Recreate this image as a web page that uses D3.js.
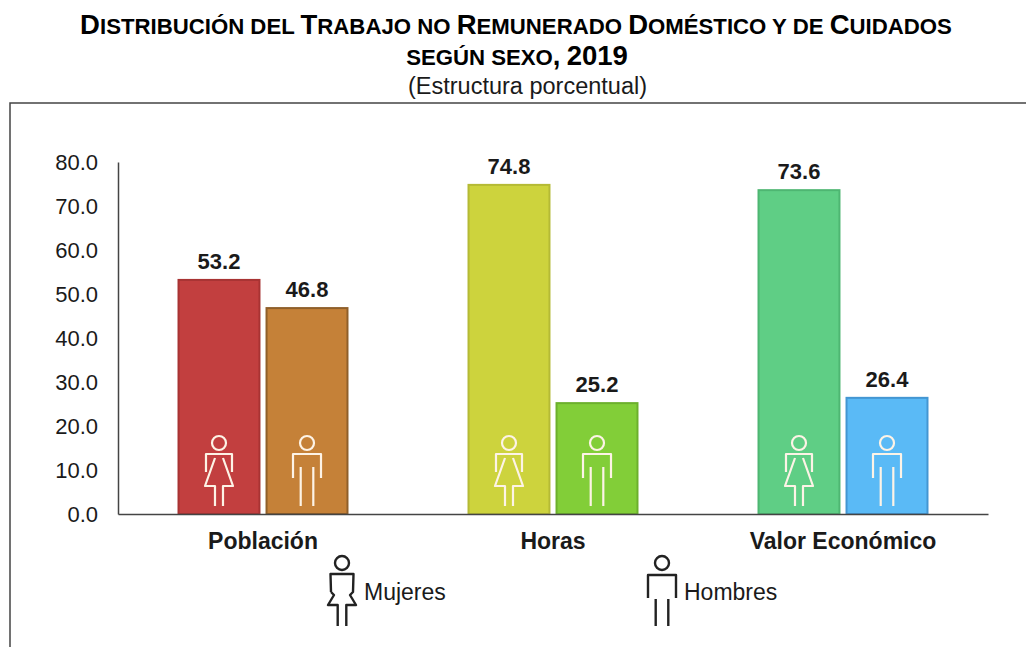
<!DOCTYPE html>
<html>
<head>
<meta charset="utf-8">
<script src="https://cdn.jsdelivr.net/npm/d3@7"></script>
<style>
    html, body { margin: 0; padding: 0; background: #fff; overflow: hidden; }
    text { font-family: "Liberation Sans", Arial, sans-serif; fill: #1a1a1a; }
    .title { font-weight: bold; fill: #000; }
</style>
</head>
<body>
<div id="chart"></div>
<script>
// data
const categories = ["Población", "Horas", "Valor Económico"];
const sexes = ["Mujeres", "Hombres"];
const mujeres = [53.2, 74.8, 73.6];
const hombres = [46.8, 25.2, 26.4];
const yTicks = [0, 10, 20, 30, 40, 50, 60, 70, 80];

const fillMujeres = ["#c23f3f", "#cdd33d", "#5fce85"];
const fillHombres = ["#c58138", "#82ce38", "#5abaf6"];
const lineMujeres = ["#a83333", "#b5ba35", "#4eb672"];
const lineHombres = ["#8f5f2a", "#6cb02c", "#4396d2"];

// icons, origin at the centre of the head
const womanBar = "M-13,29 L-13,11 L13,11 L13,29 M-4,15 L-14,43 L-4,43 L-4,63 M4,15 L14,43 L4,43 L4,63";
const manBar = "M-14,35 L-14,11 L14,11 L14,35 M-6.3,24 L-6.3,63 M6.3,24 L6.3,63";
const womanLegend = "M-11,29 L-11.5,11 L11.5,11 L11,29 L8,32 L14,42 L4.3,42 L4.3,63 M-11,29 L-8,32 L-14,42 L-4.3,42 L-4.3,63";
const manLegend = "M-14,35 L-14,12 L14,12 L14,35 M-6.3,36 L-6.3,63 M6.3,36 L6.3,63";

const svg = d3.select("#chart").append("svg")
    .attr("width", 1026)
    .attr("height", 647);

// small caps by hand: capitals and digits big, the rest uppercased at a smaller size
function smallCaps(sel, str, big, small) {
    str.match(/[A-ZÁÉÍÓÚ0-9,]+|[^A-ZÁÉÍÓÚ0-9,]+/g).forEach(function(run) {
        const isBig = /[A-ZÁÉÍÓÚ0-9,]/.test(run[0]);
        sel.append("tspan")
            .attr("font-size", isBig ? big : small)
            .text(run.toUpperCase());
    });
}

// title
const title1 = svg.append("text").attr("class", "title")
    .attr("x", 516).attr("y", 34)
    .attr("text-anchor", "middle");
smallCaps(title1, "Distribución del Trabajo no Remunerado Doméstico y de Cuidados", 27.5, 22.2);
const title2 = svg.append("text").attr("class", "title")
    .attr("x", 517).attr("y", 65)
    .attr("text-anchor", "middle");
smallCaps(title2, "según sexo, 2019", 27.5, 22.2);
svg.append("text")
    .attr("x", 527.5).attr("y", 94)
    .attr("text-anchor", "middle")
    .attr("font-size", 23.5)
    .text("(Estructura porcentual)");

// frame runs off the page on the right and bottom
svg.append("rect")
    .attr("x", 10).attr("y", 103)
    .attr("width", 1040).attr("height", 600)
    .attr("fill", "none")
    .attr("stroke", "#444")
    .attr("stroke-width", 1.5);

const margin = {left: 118, right: 38, top: 162, bottom: 133};
const width = 1026 - margin.left - margin.right;
const height = 647 - margin.top - margin.bottom;

const g = svg.append("g")
    .attr("transform", "translate(" + margin.left + "," + margin.top + ")");

const x = d3.scaleBand().domain(categories).range([0, width]);
const xSex = d3.scaleBand().domain(sexes).range([0, x.bandwidth()])
    .paddingInner(0.08)
    .paddingOuter(0.6875);
const y = d3.scaleLinear().domain([0, 80]).range([height, 0]);

const yAxis = d3.axisLeft(y).tickValues(yTicks).tickSize(0).tickPadding(20).tickFormat(d3.format(".1f"));
const xAxis = d3.axisBottom(x).tickSize(0).tickPadding(19);

const rows = categories.map(function(c, i) {
    return [
        {cat: c, sex: "Mujeres", value: mujeres[i], fill: fillMujeres[i], line: lineMujeres[i], icon: womanBar},
        {cat: c, sex: "Hombres", value: hombres[i], fill: fillHombres[i], line: lineHombres[i], icon: manBar}
    ];
}).flat();

// bars
g.selectAll(".bar")
    .data(rows)
    .enter().append("rect")
    .attr("class", "bar")
    .attr("x", function(d) { return x(d.cat) + xSex(d.sex); })
    .attr("y", function(d) { return y(d.value); })
    .attr("width", xSex.bandwidth())
    .attr("height", function(d) { return height - y(d.value); })
    .attr("fill", function(d) { return d.fill; })
    .attr("stroke", function(d) { return d.line; })
    .attr("stroke-width", 2);

// value labels
g.selectAll(".val")
    .data(rows)
    .enter().append("text")
    .attr("class", "val")
    .attr("x", function(d) { return x(d.cat) + xSex(d.sex) + xSex.bandwidth() / 2; })
    .attr("y", function(d) { return y(d.value) - 11; })
    .attr("text-anchor", "middle")
    .attr("font-size", 22)
    .attr("font-weight", "bold")
    .attr("fill", "#111")
    .text(function(d) { return d.value.toFixed(1); });

// icons inside the bars
const icons = g.selectAll(".icon")
    .data(rows)
    .enter().append("g")
    .attr("class", "icon")
    .attr("transform", function(d) {
        return "translate(" + (x(d.cat) + xSex(d.sex) + xSex.bandwidth() / 2) + "," + (height - 71) + ")";
    })
    .attr("fill", "none")
    .attr("stroke", "#fdf3e6")
    .attr("stroke-width", 2.2)
    .attr("stroke-linejoin", "round");
icons.append("circle").attr("r", 7);
icons.append("path").attr("d", function(d) { return d.icon; });

// axes
const gy = g.append("g").attr("class", "y-axis").call(yAxis);
const gx = g.append("g").attr("class", "x-axis")
    .attr("transform", "translate(0," + height + ")")
    .call(xAxis);

gy.selectAll("text").attr("font-size", 22).attr("fill", "#222");
gy.select(".domain").attr("stroke", "#444").attr("stroke-width", 1.5);
gx.selectAll("text").attr("font-size", 23).attr("font-weight", "bold").attr("fill", "#111");
gx.select(".domain").attr("stroke", "#444").attr("stroke-width", 1.5);

// legend
const legendItems = [
    {label: sexes[0], icon: womanLegend, cx: 342, tx: 364},
    {label: sexes[1], icon: manLegend, cx: 662, tx: 684}
];
const legend = svg.selectAll(".legend")
    .data(legendItems)
    .enter().append("g")
    .attr("class", "legend");
legend.append("circle")
    .attr("cx", function(d) { return d.cx; })
    .attr("cy", 563)
    .attr("r", 7)
    .attr("fill", "none").attr("stroke", "#222").attr("stroke-width", 2.4);
legend.append("path")
    .attr("d", function(d) { return d.icon; })
    .attr("transform", function(d) { return "translate(" + d.cx + ",563)"; })
    .attr("fill", "none").attr("stroke", "#222").attr("stroke-width", 2.4)
    .attr("stroke-linejoin", "round");
legend.append("text")
    .attr("x", function(d) { return d.tx; })
    .attr("y", 600)
    .attr("font-size", 23)
    .attr("fill", "#333")
    .text(function(d) { return d.label; });
</script>
</body>
</html>
